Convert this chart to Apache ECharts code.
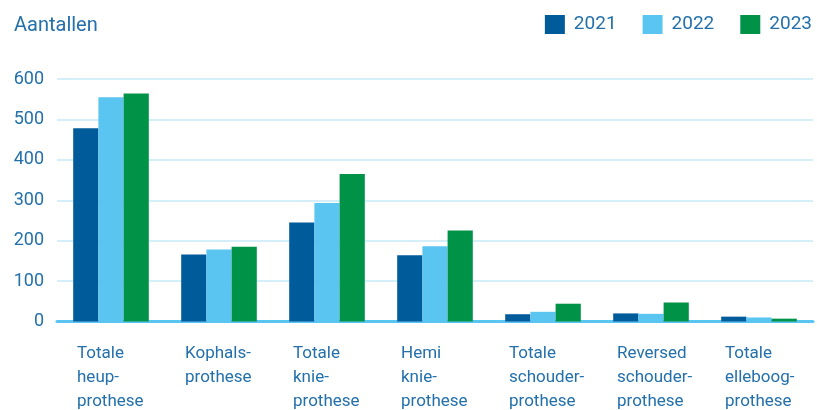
<!DOCTYPE html>
<html>
<head>
<meta charset="utf-8">
<script src="https://cdn.jsdelivr.net/npm/echarts@6/dist/echarts.min.js"></script>
<style>
  html, body { margin: 0; padding: 0; background: #fff; }
  #main { width: 817px; height: 410px; }
</style>
</head>
<body>
<div id="main"></div>
<script>
var categories = [
  'Totale\nheup-\nprothese',
  'Kophals-\nprothese',
  'Totale\nknie-\nprothese',
  'Hemi\nknie-\nprothese',
  'Totale\nschouder-\nprothese',
  'Reversed\nschouder-\nprothese',
  'Totale\nelleboog-\nprothese'
];
var years = ['2021', '2022', '2023'];
var values2021 = [478, 166, 245, 164, 18, 20, 12];
var values2022 = [555, 178, 293, 186, 24, 19, 10];
var values2023 = [564, 185, 365, 225, 44, 47, 7];
var yTicks = [0, 100, 200, 300, 400, 500, 600];

var textColor = '#2370ab';
var colors = ['#005b9a', '#5bc5f2', '#009247'];

var myChart = echarts.init(document.getElementById('main'), null, { renderer: 'canvas' });

var option = {
  animation: false,
  textStyle: { fontFamily: 'Roboto' },
  title: {
    text: 'Aantallen',
    left: 14,
    top: 16,
    padding: 0,
    textStyle: { color: textColor, fontSize: 20, fontWeight: 'normal', fontFamily: 'Roboto' }
  },
  legend: {
    data: years,
    right: 5,
    top: 15,
    padding: 0,
    itemWidth: 20,
    itemHeight: 19,
    itemGap: 26,
    icon: 'rect',
    textStyle: { color: textColor, fontSize: 19, fontFamily: 'Roboto', padding: [0, 0, 0, 4] }
  },
  grid: { left: 57, right: 4, top: 79, bottom: 88, containLabel: false },
  xAxis: {
    type: 'category',
    data: categories,
    axisLine: { lineStyle: { color: '#5bc5f2', width: 3 } },
    axisTick: { show: false },
    axisLabel: {
      interval: 0,
      margin: 20,
      formatter: function (v) {
        return v.split('\n').map(function (s) { return '{a|' + s + '}'; }).join('\n');
      },
      rich: {
        a: { width: 68, align: 'left', color: textColor, fontSize: 17, lineHeight: 24, fontFamily: 'Roboto' }
      }
    }
  },
  yAxis: {
    type: 'value',
    min: yTicks[0],
    max: yTicks[yTicks.length - 1],
    interval: 100,
    axisLine: { show: false },
    axisTick: { show: false },
    splitLine: { lineStyle: { color: '#c6e8f8', width: 1.5 } },
    axisLabel: { color: textColor, fontSize: 18, margin: 13, fontFamily: 'Roboto' }
  },
  series: [
    { name: years[0], type: 'bar', data: values2021, barGap: '0%', barCategoryGap: '30%', itemStyle: { color: colors[0] } },
    { name: years[1], type: 'bar', data: values2022, barGap: '0%', barCategoryGap: '30%', itemStyle: { color: colors[1] } },
    { name: years[2], type: 'bar', data: values2023, barGap: '0%', barCategoryGap: '30%', itemStyle: { color: colors[2] } }
  ]
};

myChart.setOption(option);
window.addEventListener('resize', myChart.resize);
</script>
</body>
</html>
